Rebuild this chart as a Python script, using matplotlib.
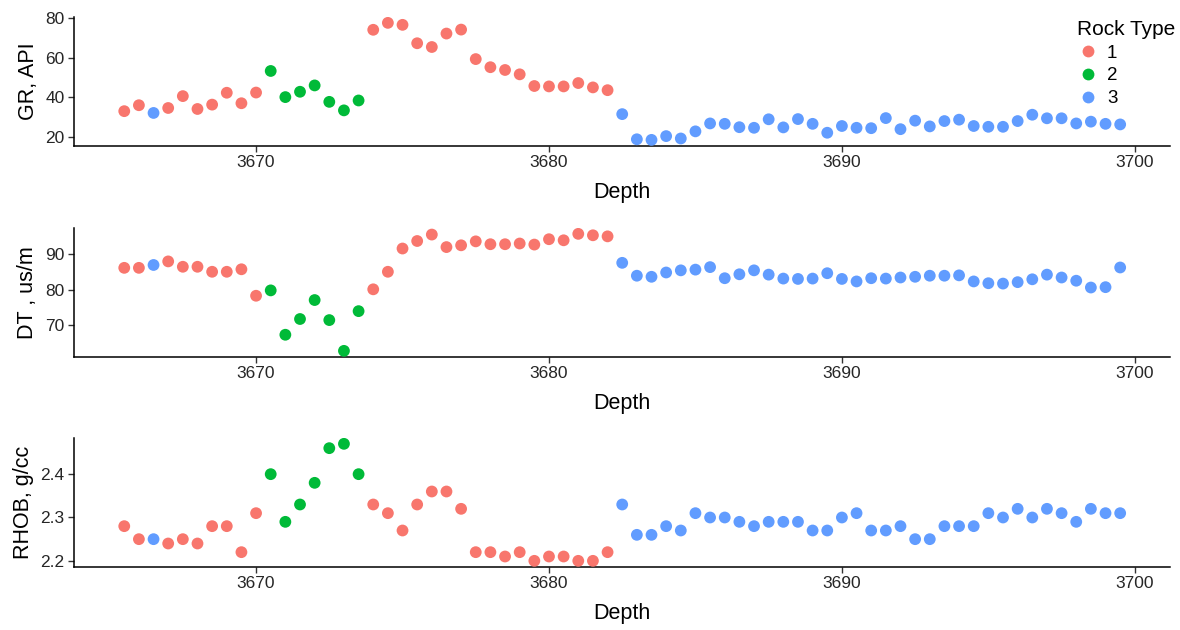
import numpy as np
import matplotlib
matplotlib.use('Agg')
import matplotlib.pyplot as plt
from matplotlib.lines import Line2D

plt.rcParams['font.family'] = ['Liberation Sans', 'DejaVu Sans']

# depth samples, 0.5 m apart
depth = np.arange(3665.5, 3699.51, 0.5)

rock = [1, 1, 3, 1, 1, 1, 1, 1, 1, 1,
        2, 2, 2, 2, 2, 2, 2,
        1, 1, 1, 1, 1, 1, 1, 1, 1, 1, 1, 1, 1, 1, 1, 1, 1] + [3] * 35

gr = [33, 36, 32.1, 34.6, 40.6, 34.1, 36.3, 42.3, 37.0, 42.4,
      53.3, 40.1, 42.8, 46.0, 37.7, 33.4, 38.4,
      74.1, 77.6, 76.6, 67.3, 65.4, 72.2, 74.2, 59.3, 55.2, 53.8, 51.6,
      45.7, 45.5, 45.5, 47.2, 45.0, 43.6,
      31.5, 18.8, 18.5, 20.4, 19.2, 22.8, 26.8, 26.6, 24.9, 24.6, 28.9,
      24.8, 29.0, 26.6, 22.1, 25.5, 24.6, 24.4, 29.5, 23.9, 28.2, 25.3,
      28.0, 28.7, 25.5, 25.1, 25.1, 28.0, 31.2, 29.4, 29.4, 26.8, 27.7,
      26.6, 26.3]

dt = [86.1, 86.1, 86.9, 87.9, 86.4, 86.4, 85.0, 85.0, 85.7, 78.3,
      79.8, 67.4, 71.8, 77.1, 71.5, 62.9, 74.0,
      80.1, 85.0, 91.5, 93.6, 95.4, 91.9, 92.4, 93.5, 92.7, 92.7, 92.9,
      92.6, 94.1, 93.8, 95.6, 95.2, 94.9,
      87.5, 83.9, 83.6, 84.8, 85.4, 85.6, 86.3, 83.2, 84.3, 85.4, 84.2,
      83.1, 83.0, 83.1, 84.6, 83.0, 82.3, 83.2, 83.1, 83.4, 83.6, 83.9,
      83.9, 84.0, 82.3, 81.8, 81.7, 82.1, 82.9, 84.2, 83.4, 82.5, 80.6,
      80.7, 86.2]

rhob = [2.28, 2.25, 2.25, 2.24, 2.25, 2.24, 2.28, 2.28, 2.22, 2.31,
        2.40, 2.29, 2.33, 2.38, 2.46, 2.47, 2.40,
        2.33, 2.31, 2.27, 2.33, 2.36, 2.36, 2.32, 2.22, 2.22, 2.21, 2.22,
        2.20, 2.21, 2.21, 2.20, 2.20, 2.22,
        2.33, 2.26, 2.26, 2.28, 2.27, 2.31, 2.30, 2.30, 2.29, 2.28, 2.29,
        2.29, 2.29, 2.27, 2.27, 2.30, 2.31, 2.27, 2.27, 2.28, 2.25, 2.25,
        2.28, 2.28, 2.28, 2.31, 2.30, 2.32, 2.30, 2.32, 2.31, 2.29, 2.32,
        2.31, 2.31]

ylabels = ['GR, API', 'DT , us/m', 'RHOB, g/cc']
yticks = [[20, 40, 60, 80], [70, 80, 90], [2.2, 2.3, 2.4]]
yticklabels = [['20', '40', '60', '80'], ['70', '80', '90'], ['2.2', '2.3', '2.4']]
xticks = [3670, 3680, 3690, 3700]

colors = {1: '#F8766D', 2: '#00BA38', 3: '#619CFF'}
rock = np.array(rock)
cols = [colors[r] for r in rock]

fig = plt.figure(figsize=(11.8, 6.3), dpi=100)
bottoms = [0.7687, 0.4338, 0.1005]
h = 0.2043
left = 0.0631
w = 0.9284

def expand(v):
    lo, hi = min(v), max(v)
    d = (hi - lo) * 0.05
    return lo - d, hi + d

for i, vals in enumerate([gr, dt, rhob]):
    ax = fig.add_axes([left, bottoms[i], w, h])
    ax.scatter(depth, vals, c=cols, s=72, linewidths=0, zorder=3)
    ax.set_xlim(expand(depth))
    ax.set_ylim(expand(vals))
    ax.set_xticks(xticks)
    ax.set_yticks(yticks[i])
    ax.set_yticklabels(yticklabels[i])
    ax.spines['top'].set_visible(False)
    ax.spines['right'].set_visible(False)
    ax.spines['left'].set_linewidth(1.1)
    ax.spines['bottom'].set_linewidth(1.1)
    ax.tick_params(length=4, width=1.0, colors='#333333', labelsize=12.5,
                   labelcolor='#262626', pad=3)
    ax.set_xlabel('Depth', fontsize=15.5, labelpad=8)
    ax.set_ylabel(ylabels[i], fontsize=15.5, labelpad=5)

handles = [Line2D([], [], marker='o', linestyle='', markersize=8.5,
                  markerfacecolor=colors[k], markeredgewidth=0)
           for k in [1, 2, 3]]
leg = fig.legend(handles, ['1', '2', '3'], title='Rock Type',
                 loc='upper left', bbox_to_anchor=(1060 / 1180, 1 - 3 / 630),
                 frameon=False, fontsize=13.5, title_fontsize=15,
                 handletextpad=0.4, labelspacing=0.3, handlelength=1.2)
leg._legend_box.align = 'left'

fig.savefig('out.png', dpi=100)
